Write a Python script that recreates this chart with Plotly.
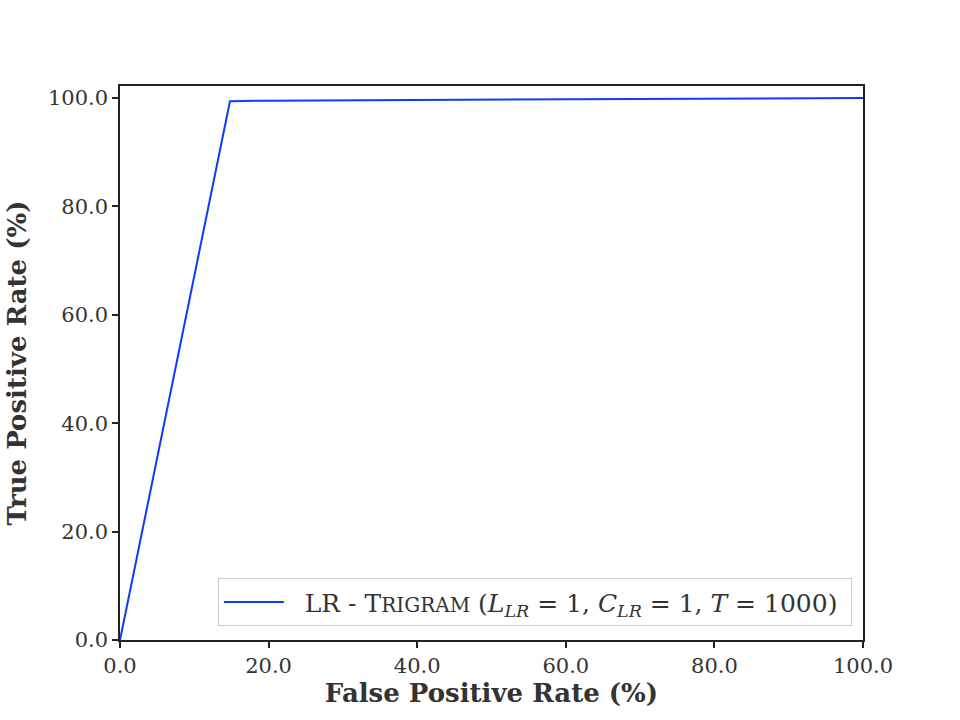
import plotly.graph_objects as go

fpr = [0.0, 14.8, 20.0, 100.0]
tpr = [0.0, 99.4, 99.5, 100.0]
series_name = ("&nbsp;&nbsp;LR - T<span style='font-size:20px'>RIGRAM</span> (<i>L</i><sub><i>LR</i></sub> = 1, "
               "<i>C</i><sub><i>LR</i></sub> = 1, <i>T</i> = 1000) ")
tick_vals = [0, 20, 40, 60, 80, 100]

FONT = "DejaVu Serif, Liberation Serif, serif"

fig = go.Figure()
fig.add_trace(go.Scatter(x=fpr, y=tpr, mode="lines", name=series_name,
                         line=dict(color="#0a3cff", width=2)))

axis_common = dict(showgrid=False, zeroline=False, showline=True, mirror=True,
                   linecolor="#222222", linewidth=1.5, ticks="outside", ticklen=6,
                   tickwidth=1.5, tickcolor="#222222", tickvals=tick_vals,
                   tickformat=".1f", tickfont=dict(family=FONT, size=21, color="#333333"))

fig.update_layout(
    width=960, height=720,
    paper_bgcolor="white", plot_bgcolor="white",
    margin=dict(l=120, r=97, t=86, b=80),
    font=dict(family=FONT, color="#222222"),
    xaxis=dict(range=[0, 100], title=dict(text="<b>False Positive Rate (%)</b>",
               font=dict(family=FONT, size=26, color="#333333"), standoff=6), **axis_common),
    yaxis=dict(range=[0, 102.2], title=dict(text="<b>True Positive Rate (%)</b>",
               font=dict(family=FONT, size=26, color="#333333"), standoff=14), **axis_common),
    legend=dict(x=0.985, y=0.025, xanchor="right", yanchor="bottom",
                bgcolor="rgba(255,255,255,0.9)", bordercolor="#cccccc", borderwidth=1,
                font=dict(family=FONT, size=25, color="#333333"),
                itemwidth=60),
    showlegend=True,
)

fig.write_html("out.html")
